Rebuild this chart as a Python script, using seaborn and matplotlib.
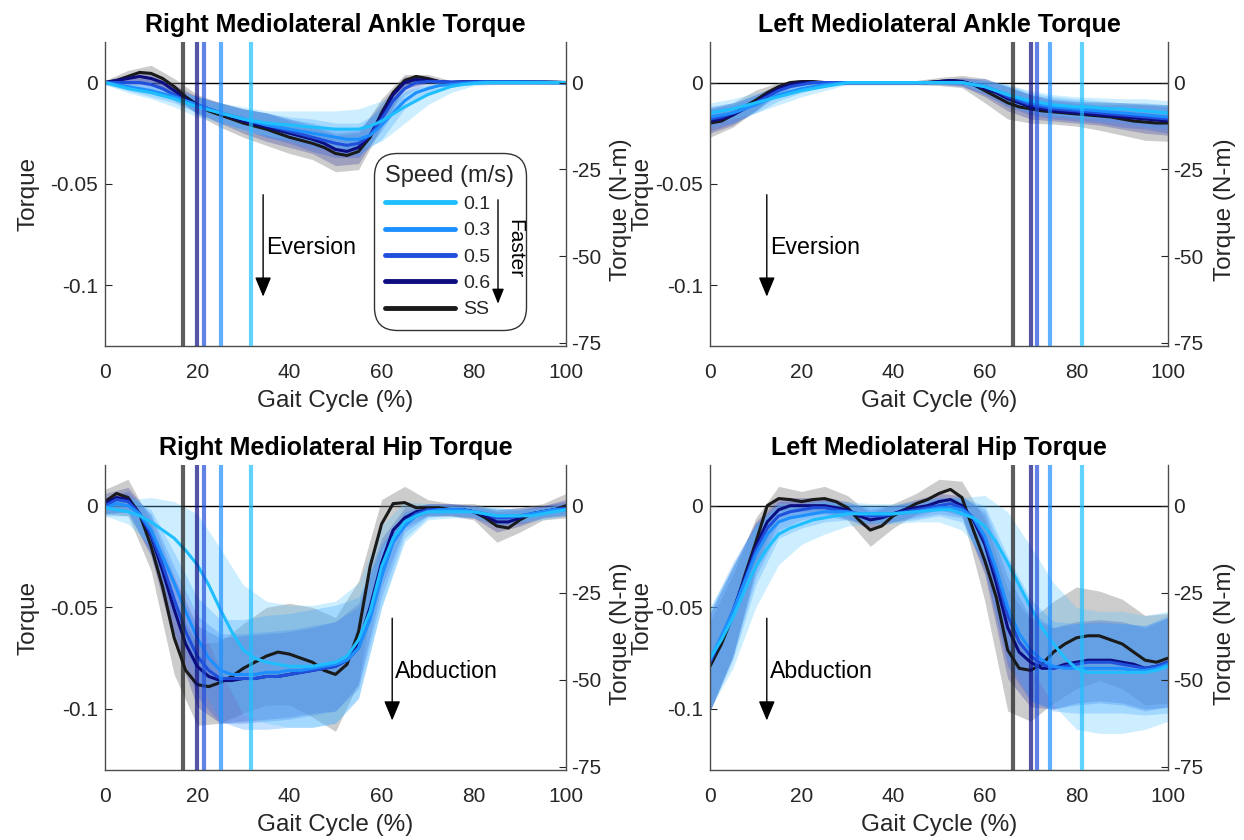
import numpy as np
import matplotlib
matplotlib.use("Agg")
import matplotlib.pyplot as plt
from matplotlib.lines import Line2D
import seaborn as sns

# gait cycle samples (%): mean curves every 2.5 %, sd bands every 5 %
GAIT = [0, 2.5, 5, 7.5, 10, 12.5, 15, 17.5, 20, 22.5, 25, 27.5, 30, 32.5, 35, 37.5, 40,
        42.5, 45, 47.5, 50, 52.5, 55, 57.5, 60, 62.5, 65, 67.5, 70, 72.5, 75, 77.5, 80,
        82.5, 85, 87.5, 90, 92.5, 95, 97.5, 100]
GAIT_SD = [0, 5, 10, 15, 20, 25, 30, 35, 40, 45, 50, 55, 60, 65, 70, 75, 80, 85, 90, 95, 100]

# order of every list below: SS, 0.6, 0.5, 0.3, 0.1 m/s
SPEEDS = ["SS", "0.6", "0.5", "0.3", "0.1"]

# toe-off (% gait) per speed
RIGHT_TOEOFF = [17.0, 20.0, 21.5, 25.1, 31.6]
LEFT_TOEOFF = [66.2, 70.1, 71.5, 74.2, 81.2]

# Right mediolateral ankle torque (normalised)
RA_MEAN = [
    [0.000, 0.001, 0.003, 0.005, 0.0045, 0.002, -0.002, -0.007, -0.011, -0.014, -0.016, -0.018, -0.020, -0.0215, -0.023, -0.025, -0.027, -0.0285, -0.030, -0.032, -0.035, -0.036, -0.034, -0.027, -0.015, -0.005, 0.001, 0.003, 0.002, 0.0005, 0.000, 0.0003, 0.0003, 0.0003, 0.0003, 0.0003, 0.0003, 0.0002, 0.0002, 0.0001, 0.000],
    [0.000, 0.001, 0.002, 0.003, 0.002, 0.000, -0.004, -0.008, -0.011, -0.013, -0.015, -0.017, -0.019, -0.0205, -0.022, -0.0235, -0.025, -0.0265, -0.028, -0.030, -0.033, -0.034, -0.032, -0.026, -0.016, -0.006, 0.000, 0.0015, 0.001, 0.0005, 0.000, 0.0003, 0.0003, 0.0003, 0.0003, 0.0003, 0.0003, 0.0002, 0.0002, 0.0001, 0.000],
    [0.000, 0.000, 0.000, 0.000, -0.001, -0.003, -0.006, -0.009, -0.011, -0.013, -0.015, -0.0165, -0.018, -0.0195, -0.021, -0.0225, -0.024, -0.0255, -0.027, -0.0285, -0.030, -0.031, -0.030, -0.026, -0.018, -0.009, -0.003, 0.000, 0.0005, 0.0005, 0.0003, 0.0003, 0.0003, 0.0003, 0.0003, 0.0003, 0.0003, 0.0002, 0.0002, 0.0001, 0.000],
    [0.000, -0.001, -0.002, -0.003, -0.004, -0.0055, -0.007, -0.009, -0.011, -0.013, -0.015, -0.0165, -0.018, -0.0195, -0.021, -0.022, -0.023, -0.024, -0.025, -0.026, -0.027, -0.028, -0.028, -0.026, -0.021, -0.015, -0.009, -0.005, -0.003, -0.0015, -0.001, -0.0005, 0.000, 0.0002, 0.0002, 0.0002, 0.0002, 0.0001, 0.0001, 0.000, 0.000],
    [0.000, -0.0015, -0.003, -0.004, -0.005, -0.0065, -0.008, -0.010, -0.012, -0.0135, -0.015, -0.0165, -0.018, -0.019, -0.020, -0.0205, -0.021, -0.0215, -0.022, -0.0225, -0.023, -0.023, -0.023, -0.0215, -0.019, -0.0155, -0.012, -0.009, -0.006, -0.004, -0.002, -0.001, -0.0005, 0.000, 0.000, 0.000, 0.000, 0.000, 0.000, 0.000, 0.000],
]
RA_SD = [
    [0.001, 0.003, 0.004, 0.004, 0.005, 0.006, 0.007, 0.008, 0.008, 0.008, 0.009, 0.009, 0.007, 0.003, 0.002, 0.001, 0.001, 0.001, 0.001, 0.001, 0.001],
    [0.001, 0.002, 0.003, 0.003, 0.004, 0.005, 0.006, 0.007, 0.007, 0.007, 0.008, 0.008, 0.006, 0.003, 0.001, 0.001, 0.001, 0.001, 0.001, 0.001, 0.001],
    [0.001, 0.002, 0.003, 0.003, 0.004, 0.005, 0.005, 0.006, 0.006, 0.007, 0.007, 0.007, 0.006, 0.003, 0.001, 0.001, 0.001, 0.001, 0.001, 0.001, 0.001],
    [0.001, 0.002, 0.003, 0.003, 0.004, 0.004, 0.005, 0.006, 0.006, 0.007, 0.007, 0.008, 0.007, 0.004, 0.002, 0.001, 0.001, 0.001, 0.001, 0.001, 0.001],
    [0.001, 0.002, 0.003, 0.004, 0.005, 0.005, 0.006, 0.006, 0.007, 0.008, 0.009, 0.010, 0.010, 0.008, 0.005, 0.003, 0.001, 0.001, 0.001, 0.001, 0.001],
]

# Left mediolateral ankle torque
LA_MEAN = [
    [-0.020, -0.019, -0.016, -0.012, -0.0087, -0.005, -0.002, 0.000, 0.0005, 0.0005, 0.000, 0.000, 0.000, 0.000, 0.000, 0.000, 0.000, 0.000, 0.000, 0.000, 0.0005, 0.001, 0.0005, -0.001, -0.004, -0.007, -0.010, -0.012, -0.013, -0.014, -0.0145, -0.015, -0.0155, -0.016, -0.0165, -0.017, -0.018, -0.019, -0.0195, -0.020, -0.020],
    [-0.019, -0.018, -0.016, -0.013, -0.010, -0.006, -0.003, -0.001, 0.000, 0.000, 0.000, 0.000, 0.000, 0.000, 0.000, 0.000, 0.000, 0.000, 0.000, 0.000, 0.0005, 0.001, 0.0005, -0.001, -0.003, -0.005, -0.008, -0.010, -0.012, -0.013, -0.014, -0.0145, -0.015, -0.0155, -0.016, -0.0165, -0.017, -0.0175, -0.018, -0.0185, -0.019],
    [-0.018, -0.017, -0.015, -0.013, -0.010, -0.007, -0.004, -0.002, -0.001, 0.000, 0.000, 0.000, 0.000, 0.000, 0.000, 0.000, 0.000, 0.000, 0.000, 0.000, 0.000, 0.000, 0.000, -0.001, -0.002, -0.004, -0.007, -0.009, -0.011, -0.012, -0.013, -0.0135, -0.014, -0.0145, -0.015, -0.0155, -0.016, -0.0165, -0.017, -0.0175, -0.018],
    [-0.017, -0.016, -0.015, -0.013, -0.011, -0.0085, -0.006, -0.0045, -0.003, -0.002, -0.001, -0.0005, 0.000, 0.000, 0.000, 0.000, 0.000, 0.000, 0.000, 0.000, 0.000, 0.000, 0.000, -0.001, -0.002, -0.004, -0.006, -0.008, -0.010, -0.011, -0.012, -0.0125, -0.013, -0.0135, -0.014, -0.0145, -0.015, -0.0155, -0.016, -0.0165, -0.017],
    [-0.015, -0.014, -0.013, -0.0115, -0.010, -0.0085, -0.007, -0.0055, -0.004, -0.003, -0.002, -0.001, 0.000, 0.000, 0.000, 0.000, 0.000, 0.000, 0.000, 0.000, 0.000, 0.000, 0.000, -0.001, -0.002, -0.004, -0.006, -0.0075, -0.009, -0.010, -0.011, -0.0115, -0.012, -0.012, -0.0125, -0.013, -0.013, -0.0135, -0.014, -0.0145, -0.015],
]
LA_SD = [
    [0.007, 0.006, 0.005, 0.002, 0.001, 0.001, 0.001, 0.001, 0.001, 0.001, 0.002, 0.003, 0.006, 0.008, 0.007, 0.006, 0.006, 0.007, 0.008, 0.009, 0.009],
    [0.006, 0.005, 0.004, 0.002, 0.001, 0.001, 0.001, 0.001, 0.001, 0.001, 0.001, 0.002, 0.004, 0.006, 0.006, 0.005, 0.005, 0.005, 0.006, 0.007, 0.007],
    [0.006, 0.005, 0.004, 0.002, 0.001, 0.001, 0.001, 0.001, 0.001, 0.001, 0.001, 0.002, 0.004, 0.005, 0.005, 0.005, 0.005, 0.005, 0.006, 0.006, 0.007],
    [0.005, 0.005, 0.004, 0.003, 0.002, 0.001, 0.001, 0.001, 0.001, 0.001, 0.001, 0.001, 0.003, 0.005, 0.005, 0.005, 0.005, 0.005, 0.005, 0.006, 0.006],
    [0.005, 0.005, 0.005, 0.004, 0.003, 0.002, 0.001, 0.001, 0.001, 0.001, 0.001, 0.001, 0.003, 0.005, 0.005, 0.005, 0.005, 0.005, 0.005, 0.006, 0.006],
]

# Right mediolateral hip torque
RH_MEAN = [
    [0.002, 0.006, 0.004, -0.004, -0.020, -0.040, -0.065, -0.081, -0.088, -0.089, -0.087, -0.084, -0.080, -0.077, -0.074, -0.072, -0.073, -0.075, -0.077, -0.081, -0.083, -0.078, -0.062, -0.030, -0.009, 0.001, 0.0015, -0.001, -0.001, -0.001, -0.002, -0.002, -0.003, -0.006, -0.010, -0.011, -0.007, -0.004, -0.003, -0.002, 0.000],
    [0.001, 0.004, 0.003, -0.004, -0.015, -0.032, -0.051, -0.068, -0.079, -0.084, -0.086, -0.086, -0.085, -0.085, -0.084, -0.084, -0.083, -0.082, -0.081, -0.080, -0.079, -0.076, -0.068, -0.050, -0.028, -0.012, -0.006, -0.003, -0.002, -0.002, -0.002, -0.002, -0.003, -0.005, -0.008, -0.008, -0.006, -0.004, -0.003, -0.002, -0.001],
    [0.000, 0.003, 0.002, -0.004, -0.014, -0.029, -0.046, -0.062, -0.074, -0.081, -0.085, -0.085, -0.085, -0.085, -0.084, -0.084, -0.083, -0.082, -0.081, -0.080, -0.079, -0.076, -0.070, -0.054, -0.032, -0.016, -0.008, -0.004, -0.002, -0.002, -0.002, -0.002, -0.003, -0.004, -0.006, -0.006, -0.005, -0.004, -0.003, -0.002, -0.001],
    [-0.001, 0.001, 0.000, -0.004, -0.012, -0.025, -0.038, -0.052, -0.065, -0.075, -0.081, -0.083, -0.083, -0.083, -0.082, -0.082, -0.081, -0.081, -0.080, -0.079, -0.078, -0.076, -0.070, -0.056, -0.035, -0.018, -0.010, -0.005, -0.003, -0.002, -0.002, -0.002, -0.003, -0.004, -0.005, -0.005, -0.005, -0.004, -0.003, -0.002, -0.002],
    [-0.001, -0.002, -0.003, -0.005, -0.008, -0.012, -0.016, -0.022, -0.029, -0.039, -0.051, -0.062, -0.071, -0.075, -0.077, -0.078, -0.079, -0.079, -0.079, -0.078, -0.077, -0.074, -0.066, -0.052, -0.030, -0.016, -0.008, -0.005, -0.003, -0.003, -0.003, -0.003, -0.003, -0.004, -0.005, -0.005, -0.005, -0.005, -0.004, -0.003, -0.002],
]
RH_SD = [
    [0.006, 0.009, 0.012, 0.018, 0.020, 0.020, 0.022, 0.024, 0.025, 0.027, 0.028, 0.025, 0.012, 0.008, 0.004, 0.003, 0.004, 0.008, 0.006, 0.004, 0.006],
    [0.005, 0.006, 0.010, 0.016, 0.020, 0.021, 0.021, 0.021, 0.021, 0.021, 0.022, 0.020, 0.012, 0.005, 0.003, 0.003, 0.003, 0.005, 0.004, 0.003, 0.004],
    [0.004, 0.005, 0.010, 0.016, 0.020, 0.022, 0.022, 0.022, 0.022, 0.022, 0.022, 0.020, 0.013, 0.005, 0.003, 0.003, 0.003, 0.004, 0.004, 0.003, 0.003],
    [0.004, 0.005, 0.010, 0.015, 0.020, 0.025, 0.027, 0.028, 0.028, 0.029, 0.029, 0.025, 0.015, 0.006, 0.003, 0.002, 0.002, 0.004, 0.003, 0.002, 0.003],
    [0.004, 0.006, 0.012, 0.018, 0.025, 0.030, 0.032, 0.030, 0.030, 0.030, 0.030, 0.028, 0.020, 0.010, 0.004, 0.003, 0.003, 0.004, 0.003, 0.003, 0.003],
]

# Left mediolateral hip torque
LH_MEAN = [
    [-0.079, -0.068, -0.054, -0.035, -0.018, 0.000, 0.0035, 0.003, 0.002, 0.003, 0.0035, 0.002, -0.001, -0.007, -0.012, -0.010, -0.005, -0.002, 0.001, 0.003, 0.006, 0.008, 0.004, -0.012, -0.027, -0.045, -0.071, -0.080, -0.081, -0.078, -0.072, -0.068, -0.065, -0.064, -0.064, -0.066, -0.068, -0.072, -0.076, -0.077, -0.075],
    [-0.077, -0.065, -0.052, -0.036, -0.020, -0.008, -0.002, 0.000, 0.000, 0.000, 0.000, -0.001, -0.002, -0.005, -0.007, -0.006, -0.004, -0.002, -0.001, 0.000, 0.002, 0.003, 0.000, -0.007, -0.019, -0.038, -0.060, -0.072, -0.077, -0.080, -0.080, -0.078, -0.077, -0.076, -0.076, -0.076, -0.077, -0.078, -0.080, -0.079, -0.077],
    [-0.077, -0.065, -0.052, -0.037, -0.022, -0.011, -0.005, -0.003, -0.002, -0.001, -0.001, -0.002, -0.003, -0.004, -0.005, -0.005, -0.004, -0.003, -0.002, -0.001, 0.000, 0.001, -0.001, -0.006, -0.017, -0.034, -0.054, -0.067, -0.074, -0.078, -0.080, -0.079, -0.078, -0.077, -0.077, -0.077, -0.078, -0.079, -0.080, -0.079, -0.077],
    [-0.076, -0.064, -0.052, -0.038, -0.024, -0.014, -0.008, -0.006, -0.005, -0.004, -0.003, -0.003, -0.003, -0.004, -0.004, -0.004, -0.004, -0.0035, -0.003, -0.002, -0.001, -0.001, -0.002, -0.006, -0.015, -0.031, -0.050, -0.063, -0.071, -0.076, -0.079, -0.080, -0.080, -0.080, -0.080, -0.080, -0.080, -0.081, -0.081, -0.080, -0.078],
    [-0.075, -0.066, -0.055, -0.042, -0.030, -0.021, -0.014, -0.011, -0.009, -0.007, -0.006, -0.005, -0.004, -0.004, -0.004, -0.004, -0.004, -0.0035, -0.003, -0.0025, -0.002, -0.002, -0.004, -0.006, -0.010, -0.018, -0.028, -0.039, -0.050, -0.060, -0.068, -0.075, -0.080, -0.082, -0.082, -0.082, -0.082, -0.082, -0.082, -0.081, -0.079],
]
LH_SD = [
    [0.022, 0.020, 0.012, 0.006, 0.005, 0.006, 0.006, 0.008, 0.006, 0.005, 0.007, 0.008, 0.020, 0.030, 0.025, 0.025, 0.025, 0.022, 0.022, 0.022, 0.022],
    [0.024, 0.022, 0.012, 0.006, 0.004, 0.004, 0.004, 0.005, 0.004, 0.004, 0.004, 0.005, 0.015, 0.025, 0.022, 0.020, 0.020, 0.020, 0.020, 0.020, 0.022],
    [0.024, 0.022, 0.013, 0.007, 0.005, 0.004, 0.004, 0.004, 0.004, 0.004, 0.004, 0.005, 0.015, 0.025, 0.022, 0.020, 0.020, 0.020, 0.020, 0.021, 0.022],
    [0.025, 0.024, 0.015, 0.008, 0.006, 0.005, 0.004, 0.004, 0.004, 0.004, 0.004, 0.006, 0.015, 0.025, 0.025, 0.022, 0.022, 0.022, 0.022, 0.022, 0.024],
    [0.025, 0.025, 0.020, 0.015, 0.010, 0.008, 0.006, 0.005, 0.005, 0.005, 0.006, 0.008, 0.015, 0.025, 0.030, 0.030, 0.030, 0.030, 0.030, 0.028, 0.027],
]

LINE_COLORS = ["#1a1a1a", "#0d0d80", "#1f4fdb", "#1e8fff", "#1fbfff"]
BAND_COLORS = ["#808080", "#3a3aa0", "#2f5fe0", "#3a9aff", "#5cc8ff"]
BAND_ALPHA = [0.4, 0.3, 0.3, 0.3, 0.3]

NM_SCALE = 584.0   # normalised torque -> N-m
YLIM = (-0.13, 0.02)
TEXT = "#262626"

sns.set_style("white")
plt.rcParams['font.family'] = ['Liberation Sans', 'DejaVu Sans']
plt.rcParams['axes.unicode_minus'] = False


def draw_panel(ax, title, means, sds, toe_offs, arrow_x, word, left_lab_x, right_lab_x):
    for m, s, lc, bc, ba in zip(means, sds, LINE_COLORS, BAND_COLORS, BAND_ALPHA):
        centre = np.array(m)[::2]   # mean at the 5 % sd samples
        s = np.array(s)
        ax.fill_between(GAIT_SD, centre - s, centre + s, color=bc, alpha=ba, lw=0)
        sns.lineplot(x=GAIT, y=m, color=lc, lw=2.2, ax=ax)
    ax.axhline(0, color="k", lw=1, zorder=0.5)
    for t, lc in zip(toe_offs, LINE_COLORS):
        ax.axvline(t, color=lc, lw=3, alpha=0.7, zorder=4)

    ax.set_xlim(0, 100)
    ax.set_ylim(*YLIM)
    ax.set_xticks([0, 20, 40, 60, 80, 100])
    ax.set_yticks([-0.1, -0.05, 0])
    ax.set_yticklabels(["-0.1", "-0.05", "0"])
    ax.set_xlabel("Gait Cycle (%)", fontsize=17.5, color=TEXT, labelpad=6)
    ax.set_ylabel("Torque", fontsize=17.5, color=TEXT)
    ax.yaxis.set_label_coords(left_lab_x, 0.5)
    ax.set_title(title, fontsize=18, fontweight="bold", color="k", pad=7)
    ax.tick_params(axis="both", direction="in", length=5, labelsize=15,
                   colors=TEXT, pad=5)
    ax.tick_params(axis="x", pad=12)
    for side in ["top", "right"]:
        ax.spines[side].set_visible(False)
    for side in ["left", "bottom"]:
        ax.spines[side].set_color("#4d4d4d")
        ax.spines[side].set_linewidth(1)

    # arrow + direction word
    ax.annotate("", xy=(arrow_x, -0.107), xytext=(arrow_x, -0.054),
                arrowprops=dict(arrowstyle="-|>,head_length=0.6,head_width=0.25",
                                color="k", lw=1, mutation_scale=20))
    ax.text(arrow_x + 0.7, -0.0814, word, fontsize=16.7, color="k",
            ha="left", va="center")

    ax2 = ax.twinx()
    ax2.set_ylim(YLIM[0] * NM_SCALE, YLIM[1] * NM_SCALE)
    ax2.set_yticks([-75, -50, -25, 0])
    ax2.set_yticklabels(["-75", "-50", "-25", "0"])
    ax2.set_ylabel("Torque (N-m)", fontsize=17.5, color=TEXT)
    ax2.yaxis.set_label_coords(right_lab_x, 0.447)
    ax2.tick_params(axis="y", direction="in", length=5, labelsize=15,
                    colors=TEXT, pad=4)
    for side in ["top", "left", "bottom"]:
        ax2.spines[side].set_visible(False)
    ax2.spines["right"].set_color("#4d4d4d")
    ax2.spines["right"].set_linewidth(1)
    ax2.grid(False)
    return ax2


fig = plt.figure(figsize=(12.44, 8.4), dpi=100)
W, H = 1244.0, 840.0
ax_tl = fig.add_axes([105 / W, 1 - 346 / H, 461 / W, 304 / H])
ax_tr = fig.add_axes([710 / W, 1 - 346 / H, 458 / W, 304 / H])
ax_bl = fig.add_axes([105 / W, 1 - 770 / H, 461 / W, 305 / H])
ax_br = fig.add_axes([710 / W, 1 - 770 / H, 458 / W, 305 / H])

draw_panel(ax_tl, "Right Mediolateral Ankle Torque", RA_MEAN, RA_SD, RIGHT_TOEOFF,
           34.3, "Eversion", -0.141, 1.096)
draw_panel(ax_tr, "Left Mediolateral Ankle Torque", LA_MEAN, LA_SD, LEFT_TOEOFF,
           12.4, "Eversion", -0.124, 1.10)
draw_panel(ax_bl, "Right Mediolateral Hip Torque", RH_MEAN, RH_SD, RIGHT_TOEOFF,
           62.3, "Abduction", -0.141, 1.096)
draw_panel(ax_br, "Left Mediolateral Hip Torque", LH_MEAN, LH_SD, LEFT_TOEOFF,
           12.4, "Abduction", -0.124, 1.10)

# legend (top-left panel), fastest at the bottom
handles = [Line2D([], [], color=c, lw=3.5) for c in LINE_COLORS[::-1]]
leg = ax_tl.legend(handles, SPEEDS[::-1], title="Speed (m/s)", loc="upper left",
                   bbox_to_anchor=(0.583, 0.635), borderaxespad=0, fontsize=14,
                   title_fontsize=17, handlelength=3.6, handletextpad=0.4,
                   labelspacing=0.45, borderpad=0.6, frameon=True, fancybox=True,
                   alignment="left")
frame = leg.get_frame()
frame.set_edgecolor("k")
frame.set_linewidth(1)
frame.set_boxstyle("round,pad=0,rounding_size=1.2")
leg.set_zorder(10)
ax_tl.annotate("", xy=(0.8525, 0.13), xytext=(0.8525, 0.49), xycoords="axes fraction",
               arrowprops=dict(arrowstyle="-|>,head_length=0.5,head_width=0.2",
                               color="k", lw=1, mutation_scale=18), zorder=11)
ax_tl.text(0.889, 0.322, "Faster", transform=ax_tl.transAxes, rotation=-90,
           fontsize=15, ha="center", va="center", color="k", zorder=11)

fig.savefig("out.png", dpi=100)
